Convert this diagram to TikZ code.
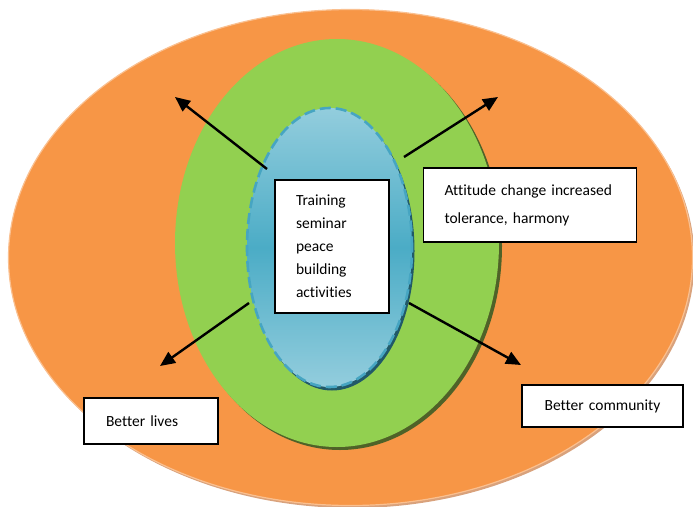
\documentclass[tikz,border=0pt]{standalone}
\usepackage{fontspec}
\setmainfont[Ligatures=NoCommon]{Carlito}
\usetikzlibrary{shapes.geometric,shadows,arrows.meta}

\definecolor{orangefill}{HTML}{F79646}
\definecolor{orangeedge}{HTML}{FAC090}
\definecolor{orangeshade}{HTML}{D9A27C}
\definecolor{greenfill}{HTML}{92D050}
\definecolor{greenshade}{HTML}{4F6228}
\definecolor{bluelight}{HTML}{93CDDD}
\definecolor{bluedark}{HTML}{4BACC6}
\definecolor{blueedge}{HTML}{46A5C2}
\definecolor{blueshade}{HTML}{215968}

\begin{document}
\begin{tikzpicture}[
    x=1pt, y=-1pt,
    >={Triangle[length=15pt,width=13pt]},
    ring/.style={ellipse, inner sep=0pt},
    textbox/.style={draw=black, fill=white, line width=1.3pt, inner ysep=0pt,
        font=\fontsize{15.5}{23}\selectfont, align=left},
    outarrow/.style={->, line width=2.4pt}
]
\useasboundingbox (0,0) rectangle (693,506);

% the three rings
\node[ring, minimum width=684pt, minimum height=496pt, fill=orangefill,
      draw=orangeedge, line width=1.2pt,
      drop shadow={fill=orangeshade, opacity=1, shadow xshift=2pt, shadow yshift=-2.5pt}]
      (outer) at (350.5,257.5) {};
\node[ring, minimum width=324pt, minimum height=408pt, fill=greenfill,
      drop shadow={fill=greenshade, opacity=1, shadow xshift=3pt, shadow yshift=-3pt}]
      (middle) at (337,243) {};
\node[ring, minimum width=165pt, minimum height=279pt,
      top color=bluelight, bottom color=bluelight, middle color=bluedark,
      draw=blueedge, line width=2.6pt, dash pattern=on 11pt off 5pt,
      drop shadow={fill=blueshade, opacity=1, shadow xshift=2.5pt, shadow yshift=-3.5pt}]
      (inner) at (329.5,247.5) {};

% boxes
\node[textbox, minimum width=114pt, minimum height=133pt, inner xsep=21pt, text width=72pt]
      (training) at (332,246.5) {Training\\seminar\\peace\\building\\activities};
\node[textbox, minimum width=213pt, minimum height=74pt, inner xsep=21pt, text width=171pt,
      font=\fontsize{15.5}{28}\selectfont]
      (attitude) at (530,205) {Attitude change increased\\tolerance, harmony};
\node[textbox, minimum width=134pt, minimum height=46pt, inner xsep=22pt, text width=90pt]
      (lives) at (151,421) {Better lives};
\node[textbox, minimum width=161pt, minimum height=42pt, inner xsep=19pt, text width=123pt,
      align=center]
      (community) at (602.5,406) {Better community};

% arrow ends
\coordinate (ulS) at (267,169);
\coordinate (ulE) at (175,97);
\coordinate (urS) at (404,157);
\coordinate (urE) at (498,97);
\coordinate (llS) at (249,303);
\coordinate (llE) at (160,366);
\coordinate (lrS) at (409,303);
\coordinate (lrE) at (521,365);

\draw[outarrow] (ulS) -- (ulE);
\draw[outarrow] (urS) -- (urE);
\draw[outarrow] (llS) -- (llE);
\draw[outarrow] (lrS) -- (lrE);

\end{tikzpicture}
\end{document}
